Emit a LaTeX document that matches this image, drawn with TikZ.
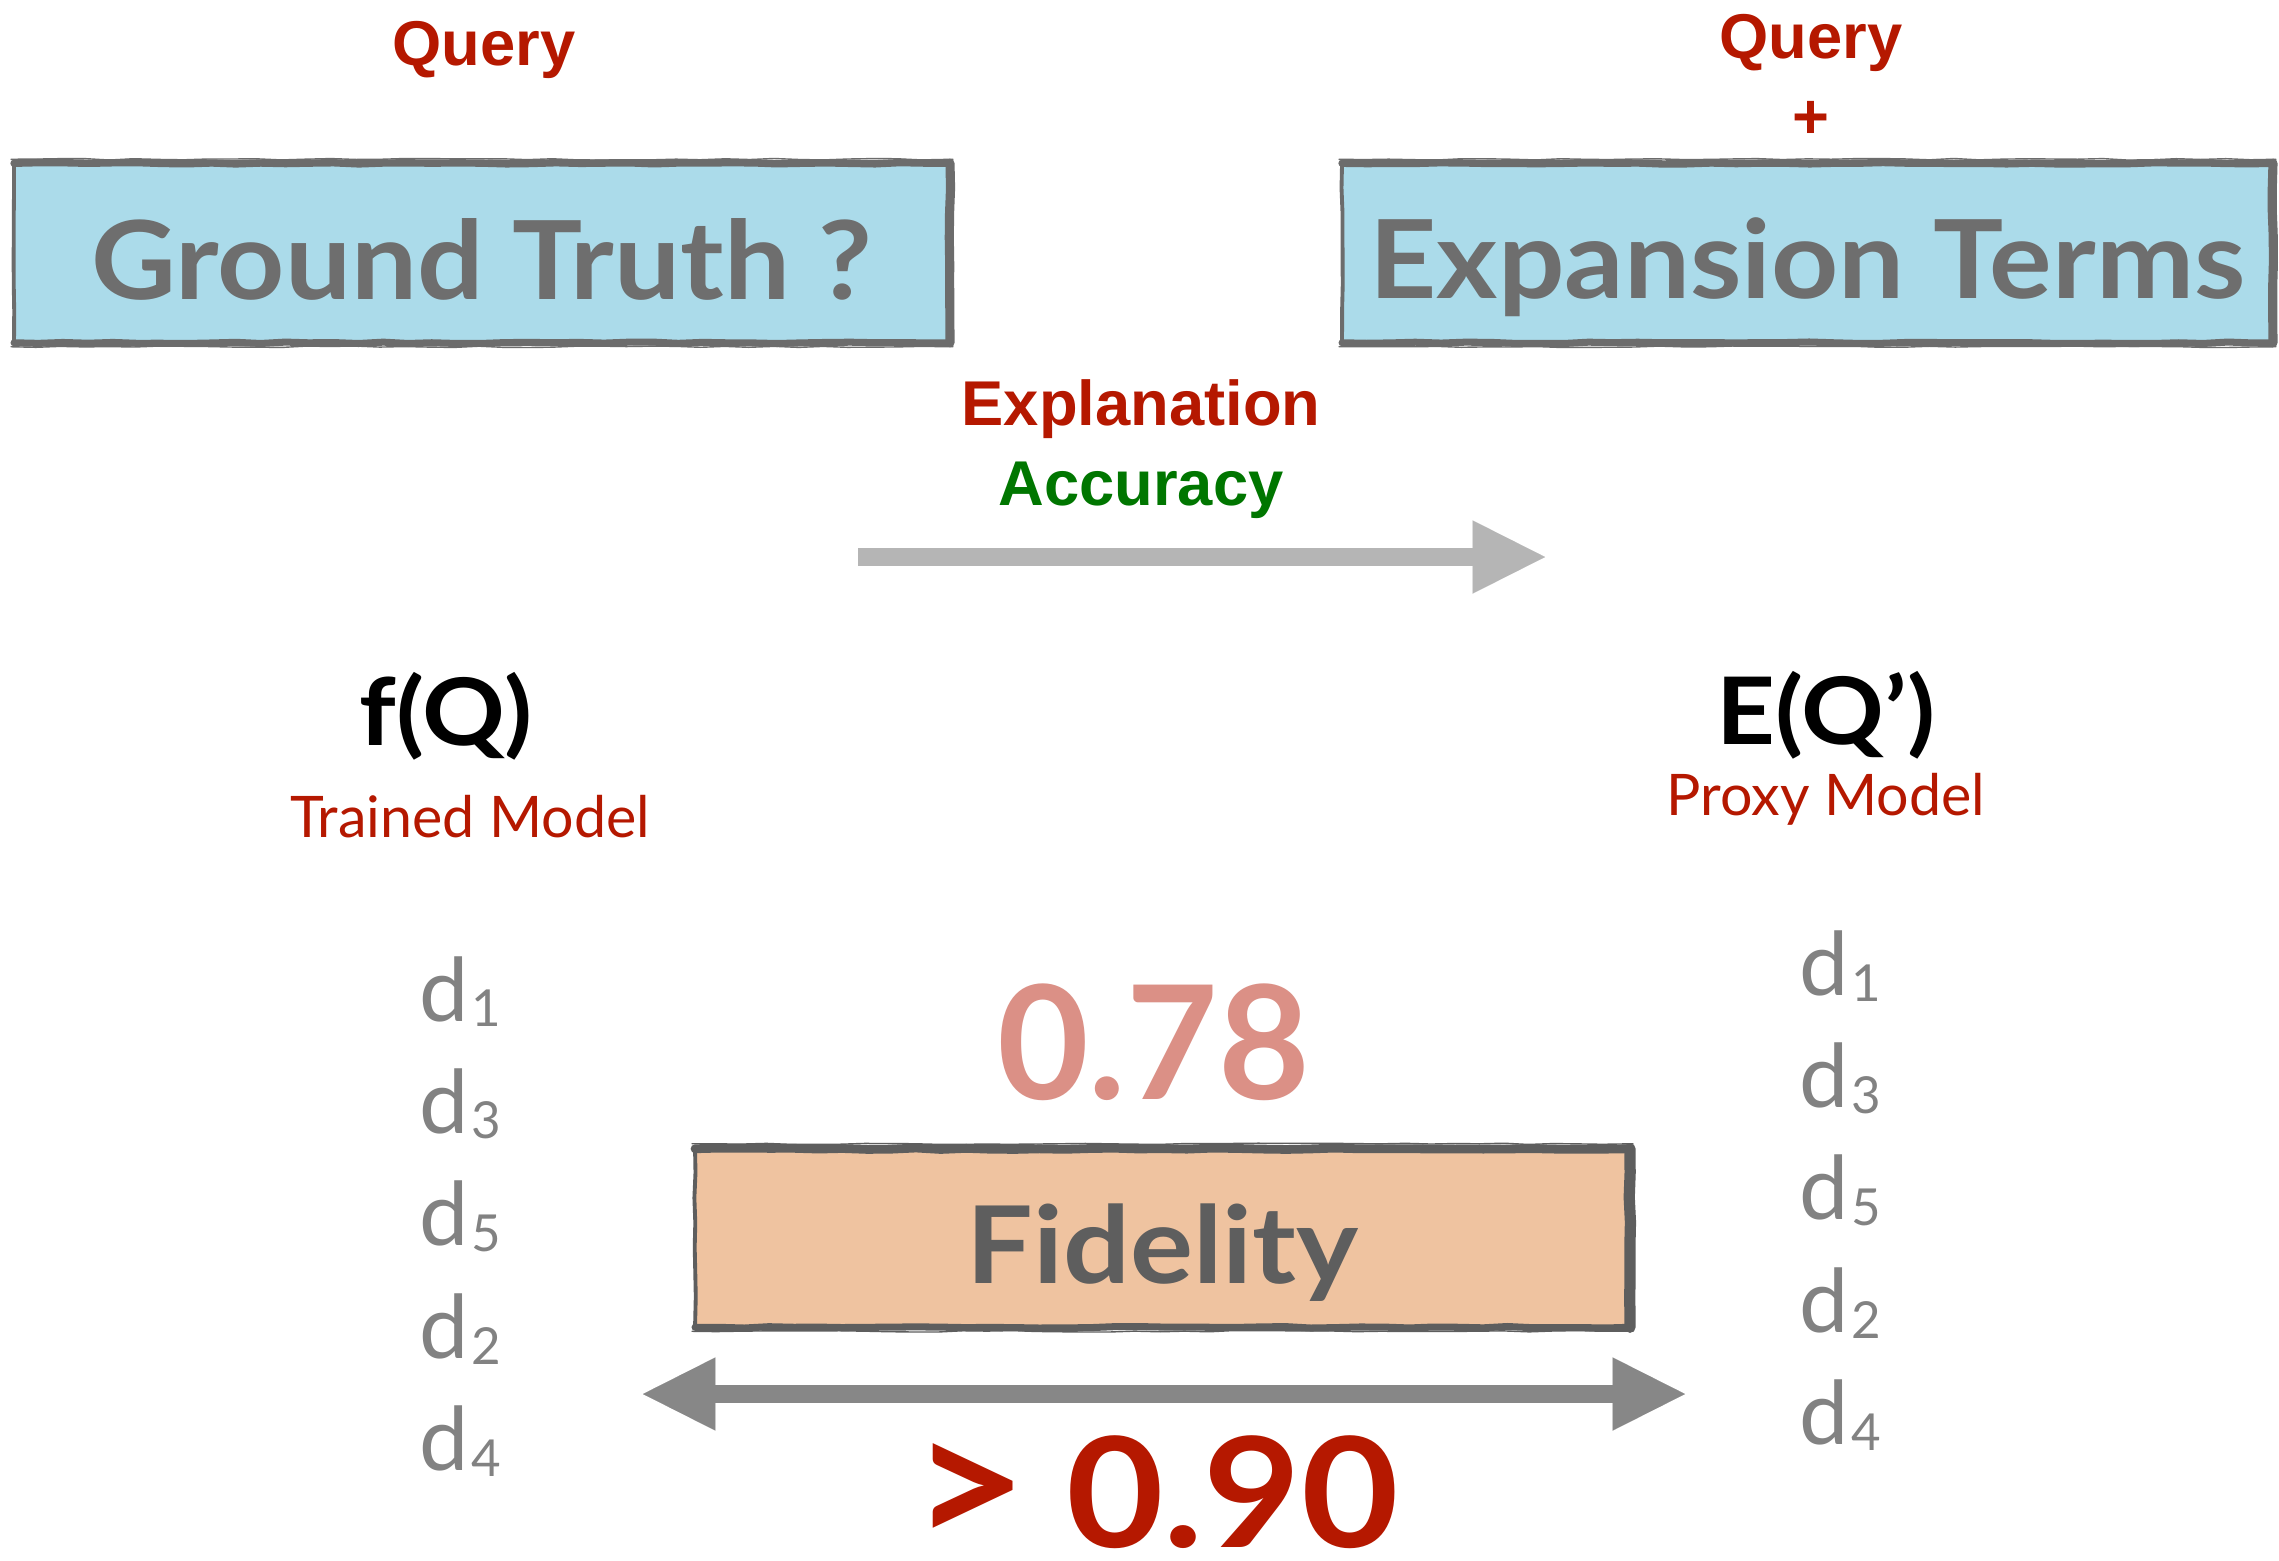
\documentclass[tikz,border=0pt]{standalone}
\usepackage{fontspec}
\setmainfont{Lato}
\newfontfamily\helv{Liberation Sans}
\newfontfamily\widelato[FakeStretch=1.075]{Lato}
\newfontfamily\widerlato[FakeStretch=1.10]{Lato}
\usetikzlibrary{arrows.meta,decorations.pathmorphing}

\definecolor{qred}{RGB}{181,24,0}
\definecolor{accgreen}{RGB}{0,118,0}
\definecolor{skyfill}{RGB}{171,219,234}
\definecolor{peachfill}{RGB}{239,195,160}
\definecolor{boxtext}{RGB}{110,110,110}
\definecolor{fidtext}{RGB}{94,94,94}
\definecolor{edgegray}{RGB}{108,108,108}
\definecolor{fidedge}{RGB}{94,94,94}
\definecolor{lowscore}{RGB}{219,144,134}
\definecolor{lightarrow}{RGB}{181,181,181}
\definecolor{darkarrow}{RGB}{135,135,135}
\definecolor{docgray}{RGB}{130,130,130}

\newcommand{\docitem}[1]{d\kern0.6pt\raisebox{-1.7pt}{\fontsize{14.5}{14.5}\selectfont #1}}

\begin{document}
\pgfmathsetseed{11}
\begin{tikzpicture}[x=0.01cm,y=-0.01cm,
  panel/.style={inner sep=0pt, text height=#1, text depth=0pt,
    font=\widelato\bfseries\fontsize{31}{31}\selectfont},
  rough/.style={line cap=round, decorate,
    decoration={random steps, segment length=7pt, amplitude=0.22pt}},
  qlabel/.style={anchor=base, inner sep=0pt, text=qred,
    font=\helv\bfseries\fontsize{18}{18}\selectfont},
  funclabel/.style={anchor=base, inner sep=0pt, text=black,
    font=\widerlato\bfseries\fontsize{26.5}{26.5}\selectfont},
  modellabel/.style={anchor=base, inner sep=0pt, text=qred,
    font=\fontsize{16.3}{16.3}\selectfont},
  docitem/.style={anchor=base west, inner sep=0pt, text=docgray,
    font=\fontsize{25}{25}\selectfont},
  bigscore/.style={anchor=base, inner sep=0pt,
    font=\bfseries\fontsize{44}{44}\selectfont},
  fatarrow/.style={line width=5.12pt,
    -{Triangle[width=20.8pt,length=20.6pt,line width=0.01pt]}},
]
\useasboundingbox[fill=white] (0,0) rectangle (2279,1560);

% ---- top row: query / ground truth and query + expansion terms ----
\node[qlabel] (qleft) at (484,65) {Query};
\node[panel=26.2pt, fill=skyfill, text=boxtext,
      minimum width=9.34cm, minimum height=1.78cm] (gt) at (482,253) {Ground Truth ?};

\node[qlabel] (qright) at (1811,58) {Query};
\node[qlabel] (plus) at (1811,138) {+};
\node[panel=25.6pt, fill=skyfill, text=boxtext,
      minimum width=9.29cm, minimum height=1.78cm] (et) at (1807.5,253) {Expansion Terms};

% hand-drawn looking frames: a heavy stroke plus a thin offset stroke per side
\foreach \b in {gt, et} {
  \draw[rough, edgegray, line width=1.1pt] (\b.north west) -- (\b.south west);
  \draw[rough, edgegray, line width=2.1pt] (\b.north west) -- (\b.north east);
  \draw[rough, edgegray, line width=2.6pt] (\b.north east) -- (\b.south east);
  \draw[rough, edgegray, line width=2.0pt] (\b.south west) -- (\b.south east);
  \draw[rough, edgegray, line width=0.4pt] ([shift={(-3,-4)}]\b.north west) -- ([shift={(3,-4)}]\b.north east);
  \draw[rough, edgegray, line width=0.4pt] ([shift={(-3,4)}]\b.south west) -- ([shift={(3,4)}]\b.south east);
}

% ---- explanation accuracy ----
\node[qlabel] (expl) at (1141,425) {Explanation};
\node[qlabel, text=accgreen] (acc) at (1141,505) {Accuracy};
\coordinate (accfrom) at (858,557);
\coordinate (accto) at (1545,557);
\draw[fatarrow, lightarrow] (accfrom) -- (accto);

% ---- models ----
\node[funclabel] (fq) at (446,745) {f(Q)};
\node[modellabel] (trained) at (470,837) {Trained Model};
\node[funclabel] (eq) at (1826,744) {E(Q’)};
\node[modellabel] (proxy) at (1826,815) {Proxy Model};

% ---- ranked documents ----
\foreach \n/\y in {1/1021, 3/1133, 5/1245, 2/1358, 4/1470}
  \node[docitem] (left\n) at (419,\y) {\docitem{\n}};
\foreach \n/\y in {1/995, 3/1107, 5/1219, 2/1332, 4/1444}
  \node[docitem] (right\n) at (1799,\y) {\docitem{\n}};

% ---- fidelity ----
\node[bigscore, text=lowscore, font=\bfseries\fontsize{45}{45}\selectfont] (low) at (1153.5,1099) {0.78};
\node[panel=25.6pt, fill=peachfill, text=fidtext,
      font=\widerlato\bfseries\fontsize{30.5}{30.5}\selectfont,
      minimum width=9.33cm, minimum height=1.77cm] (fid) at (1162.5,1238) {Fidelity};
\draw[rough, fidedge, line width=1.1pt] (fid.north west) -- (fid.south west);
\draw[rough, fidedge, line width=2.5pt] (fid.north west) -- (fid.north east);
\draw[rough, fidedge, line width=3.2pt] (fid.north east) -- (fid.south east);
\draw[rough, fidedge, line width=2.0pt] (fid.south west) -- (fid.south east);
\draw[rough, fidedge, line width=0.4pt] ([shift={(-3,-5)}]fid.north west) -- ([shift={(3,-5)}]fid.north east);
\draw[rough, fidedge, line width=0.4pt] ([shift={(-3,4)}]fid.south west) -- ([shift={(3,4)}]fid.south east);

\coordinate (fidleft) at (643,1394);
\coordinate (fidright) at (1685,1394);
\draw[darkarrow, line width=5.12pt,
      {Triangle[width=20.8pt,length=20.6pt,line width=0.01pt]}-{Triangle[width=20.8pt,length=20.6pt,line width=0.01pt]}]
      (fidleft) -- (fidright);

\node[bigscore, text=qred, font=\widerlato\bfseries\fontsize{43.5}{43.5}\selectfont] (target) at (1155,1547)
  {{\fontsize{52}{52}\selectfont >}\kern0.25em0.90};
\end{tikzpicture}
\end{document}
